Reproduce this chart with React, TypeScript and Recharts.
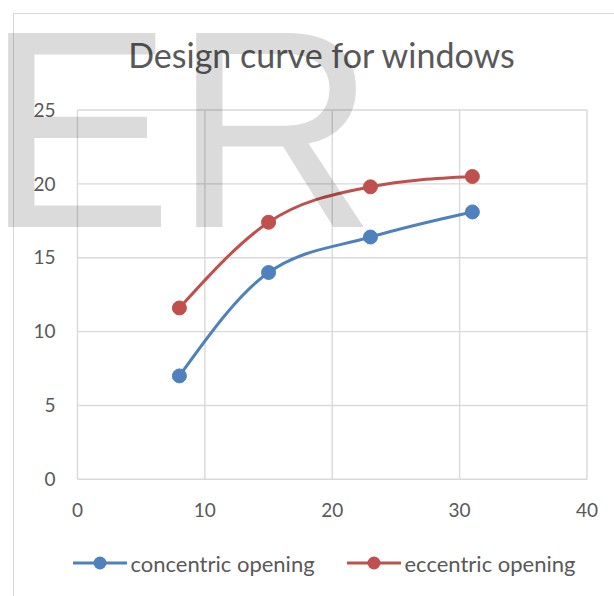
import { CartesianGrid, Legend, Line, LineChart, XAxis, YAxis } from "recharts";

const xValues = [8, 15, 23, 31];
const concentric = [7.0, 14.0, 16.4, 18.1];
const eccentric = [11.6, 17.4, 19.8, 20.5];
const xTicks = [0, 10, 20, 30, 40];
const yTicks = [0, 5, 10, 15, 20, 25];

const BLUE = "#4F81BD";
const RED = "#C0504D";
const TEXT = "#595959";
const FONT = "Lato, 'Open Sans', sans-serif";

const data = xValues.map((x, i) => ({ x, concentric: concentric[i], eccentric: eccentric[i] }));

const LegendContent = (props: any) => {
    const items = props.payload || [];
    return (
        <div style={{ display: "flex", height: 24, alignItems: "center", paddingLeft: 54, fontFamily: FONT, fontSize: 22, color: TEXT }}>
            {items.map((it: any, i: number) => (
                <div key={i} style={{ display: "flex", alignItems: "center", width: i === 0 ? 274 : "auto", flex: "none" }}>
                    <svg width={56} height={16} style={{ marginRight: 3 }}>
                        <line x1={1} y1={8} x2={55} y2={8} stroke={it.color} strokeWidth={3} />
                        <circle cx={28} cy={8} r={6.5} fill={it.color} />
                    </svg>
                    <span>{it.value}</span>
                </div>
            ))}
        </div>
    );
};

export default function App() {
    return (
        <div style={{ position: "absolute", left: 0, top: 0, width: 614, height: 596, overflow: "hidden", background: "#fff" }}>
            <div style={{ position: "absolute", left: 13, top: 13, width: 800, height: 800, border: "1px solid #d9d9d9" }} />
            <div style={{ position: "absolute", left: 0, top: 0 }}>
                <LineChart width={614} height={596} data={data} margin={{ top: 110, right: 27, left: 17.5, bottom: 21 }}>
                    <CartesianGrid stroke="#d9d9d9" strokeWidth={1.4} />
                    <XAxis type="number" dataKey="x" domain={[0, 40]} ticks={xTicks} height={71.7}
                        tickSize={0} tickMargin={24} axisLine={false}
                        tick={{ fill: TEXT, fontSize: 19, fontFamily: FONT }} />
                    <YAxis type="number" domain={[0, 25]} ticks={yTicks} width={60}
                        tickSize={0} tickMargin={22} axisLine={false}
                        tick={{ fill: TEXT, fontSize: 19, fontFamily: FONT }} />
                    <Legend verticalAlign="bottom" height={24} content={<LegendContent />} />
                    <Line type="monotone" dataKey="concentric" name="concentric opening" stroke={BLUE} strokeWidth={3}
                        dot={{ r: 7, fill: BLUE, stroke: BLUE, strokeWidth: 1 }} isAnimationActive={false} />
                    <Line type="monotone" dataKey="eccentric" name="eccentric opening" stroke={RED} strokeWidth={3}
                        dot={{ r: 7, fill: RED, stroke: RED, strokeWidth: 1 }} isAnimationActive={false} />
                </LineChart>
            </div>
            <svg width={614} height={596} style={{ position: "absolute", left: 0, top: 0, pointerEvents: "none" }}>
                <text x={321.5} y={68} textAnchor="middle" fill={TEXT} fontSize={34} fontFamily={FONT}>Design curve for windows</text>
                <text x={-15} y={227} fill="rgba(0,0,0,0.14)" fontSize={282} fontFamily="'Liberation Sans', Arial, sans-serif">ER</text>
            </svg>
        </div>
    );
}
